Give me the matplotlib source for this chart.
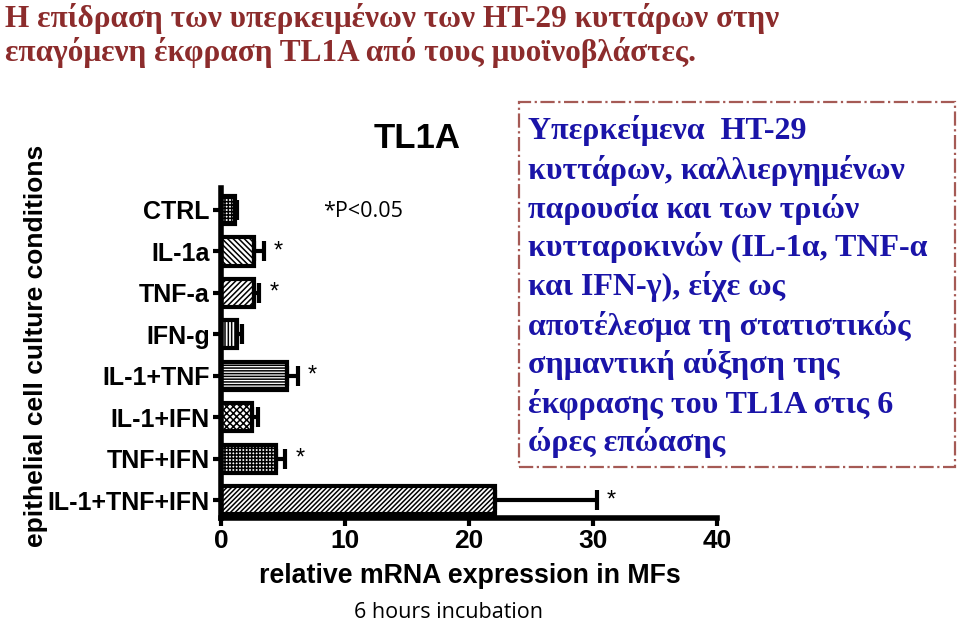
#!/usr/bin/env python3
"""TL1A expression in myofibroblasts after HT-29 supernatant (6 h)."""
import matplotlib
matplotlib.use("Agg")
import matplotlib.pyplot as plt
from matplotlib.patches import Rectangle
import numpy as np

conditions = ["CTRL", "IL-1a", "TNF-a", "IFN-g", "IL-1+TNF",
              "IL-1+IFN", "TNF+IFN", "IL-1+TNF+IFN"]
means = [1.1, 2.7, 2.7, 1.3, 5.3, 2.5, 4.4, 22.1]
errors = [0.15, 0.8, 0.4, 0.4, 0.9, 0.5, 0.8, 8.2]
significant = [False, True, True, False, True, False, True, True]
hatches = ["+++++", "\\\\\\\\\\\\", "//////", "|||||", "------", "xxxxx", "+++++", "///////"]
xticks = [0, 10, 20, 30, 40]

title_lines = [
    "Η επίδραση των υπερκειμένων των HT-29 κυττάρων στην",
    "επαγόμενη έκφραση TL1A από τους μυοϊνοβλάστες.",
]
box_lines = [
    "Υπερκείμενα  HT-29",
    "κυττάρων, καλλιεργημένων",
    "παρουσία και των τριών",
    "κυτταροκινών (IL-1α, TNF-α",
    "και IFN-γ), είχε ως",
    "αποτέλεσμα τη στατιστικώς",
    "σημαντική αύξηση της",
    "έκφρασης του TL1A στις 6",
    "ώρες επώασης",
]

SANS = "Liberation Sans"
SERIF = "Liberation Serif"
TITLE_RED = "#8c2c2c"
BOX_BLUE = "#1a14a8"
BOX_EDGE = "#a55a55"

plt.rcParams["hatch.linewidth"] = 1.1

fig = plt.figure(figsize=(9.59, 6.23), dpi=100)
ax = fig.add_axes([221 / 959, 1 - 518 / 623, 496 / 959, 330 / 623])

n = len(conditions)
ypos = np.arange(n)[::-1]
ax.barh(ypos, means, height=0.68, color="white", edgecolor="black",
        linewidth=3, hatch=hatches, zorder=2)
ax.errorbar(means, ypos, xerr=[np.zeros(n), errors], fmt="none",
            ecolor="black", elinewidth=3, capsize=7, capthick=3, zorder=3)

for y, m, e, sig in zip(ypos, means, errors, significant):
    if sig:
        ax.annotate("*", xy=(m + e, y), xytext=(7, 0), textcoords="offset points",
                    ha="left", va="center", fontsize=17, family=SANS)

ax.set_xlim(0, 40)
ax.set_ylim(-0.43, n - 0.47)
ax.set_xticks(xticks)
ax.set_xticklabels([str(t) for t in xticks], fontsize=19, fontweight="bold",
                   family=SANS)
ax.set_yticks(ypos)
ax.set_yticklabels(conditions, fontsize=18, fontweight="bold", family=SANS)
ax.tick_params(axis="both", direction="out", length=6, width=3, pad=2)
for side in ("top", "right"):
    ax.spines[side].set_visible(False)
for side in ("left", "bottom"):
    ax.spines[side].set_linewidth(4)

ax.text(0.395, 1.15, "TL1A", transform=ax.transAxes, ha="center", va="center",
        fontsize=25, fontweight="bold", family=SANS)
ax.text(0.205, 0.93, "*P<0.05", transform=ax.transAxes, ha="left",
        va="center", fontsize=15.5, family="Open Sans")

fig.text(36 / 959, 1 - 346 / 623, "epithelial cell culture conditions",
         rotation=90, ha="center", va="center", fontsize=19,
         fontweight="bold", family=SANS)
fig.text(470 / 959, 1 - 576 / 623, "relative mRNA expression in MFs",
         ha="center", va="center", fontsize=19.3, fontweight="bold", family=SANS)
fig.text(449 / 959, 1 - 613 / 623, "6 hours incubation", ha="center",
         va="center", fontsize=15.5, family="Open Sans")

# Greek heading
for i, line in enumerate(title_lines):
    fig.text(5 / 959, 1 - (18 + i * 34) / 623, line, ha="left", va="center",
             fontsize=22.5, fontweight="bold", family=SERIF, color=TITLE_RED)

# Annotation box on the right
fig.patches.append(Rectangle((519 / 959, 1 - 467 / 623), 436 / 959, 365 / 623,
                             transform=fig.transFigure, fill=False,
                             edgecolor=BOX_EDGE, linewidth=1.6, linestyle="-."))
for i, line in enumerate(box_lines):
    fig.text(528 / 959, 1 - (131 + i * 39.0) / 623, line, ha="left",
             va="center", fontsize=23, fontweight="bold", family=SERIF,
             color=BOX_BLUE)

fig.savefig("out.png", dpi=100)
